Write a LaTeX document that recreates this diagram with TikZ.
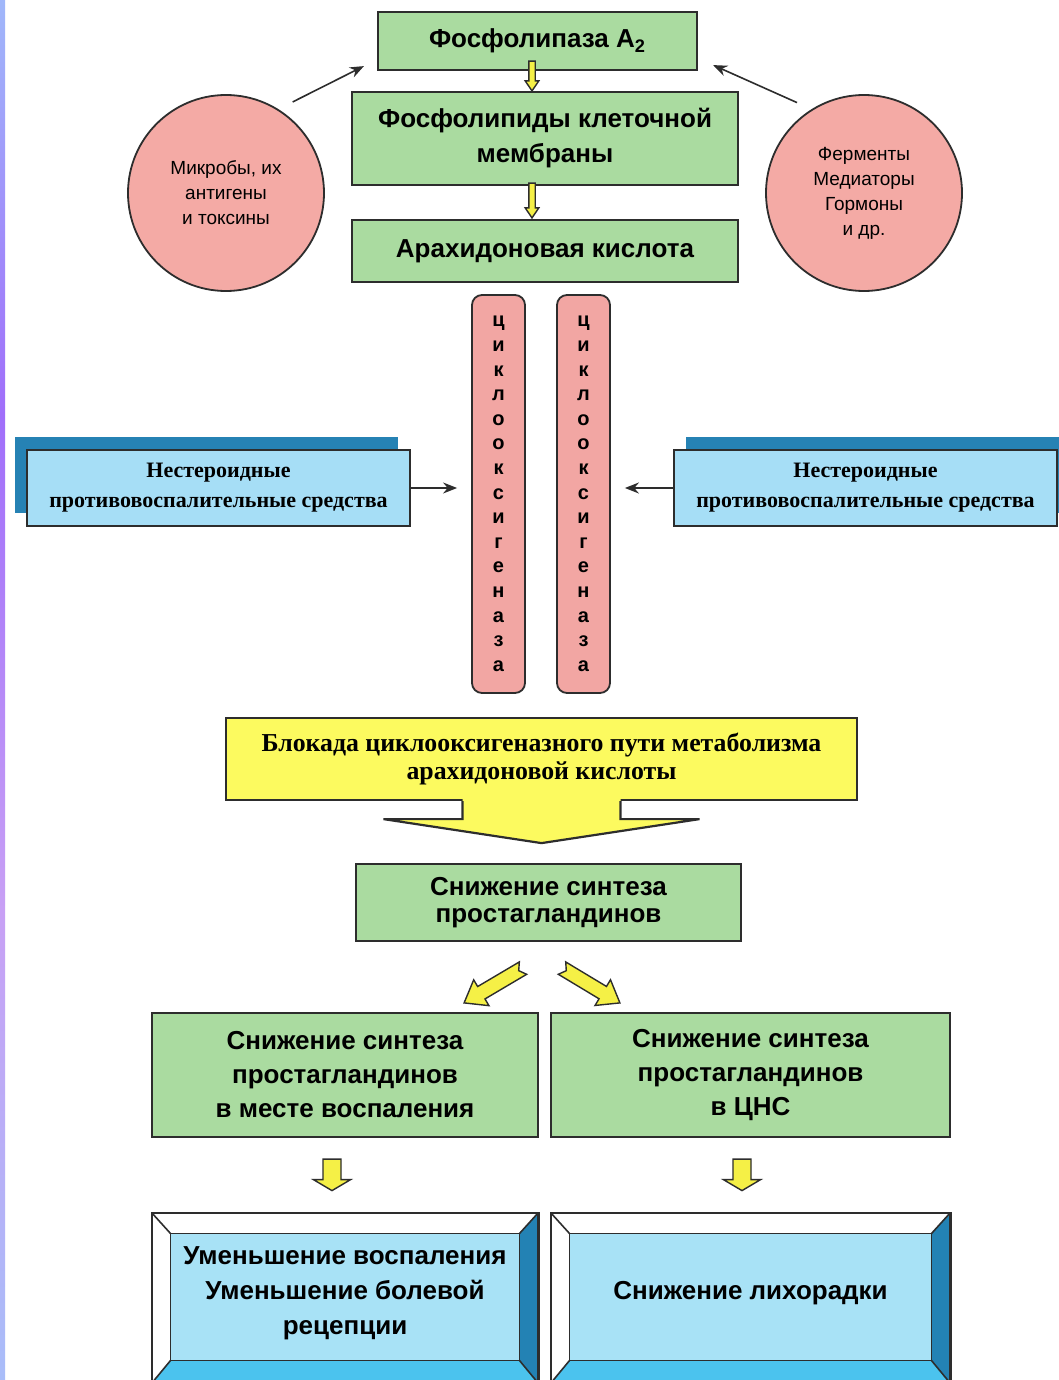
\documentclass[tikz,border=0pt]{standalone}
\usepackage{fontspec}
\setmainfont{Liberation Sans}
\newfontfamily\tnr{Liberation Serif}
\usetikzlibrary{calc,arrows.meta}
\definecolor{gfill}{RGB}{170,219,160}
\definecolor{edge}{RGB}{45,45,45}
\definecolor{pinkc}{RGB}{244,170,165}
\definecolor{coxc}{RGB}{242,166,163}
\definecolor{nsfc}{RGB}{166,222,246}
\definecolor{nsbc}{RGB}{38,130,180}
\definecolor{yel}{RGB}{252,250,95}
\definecolor{yarr}{RGB}{245,240,70}
\definecolor{bface}{RGB}{168,226,246}
\definecolor{bright}{RGB}{35,130,180}
\definecolor{bbottom}{RGB}{75,195,238}
\definecolor{sA}{RGB}{195,205,250}
\definecolor{sB}{RGB}{160,198,250}
\definecolor{sC}{RGB}{200,160,245}
\definecolor{sD}{RGB}{160,110,250}
\pgfdeclareverticalshading{leftstrip}{100bp}{color(0bp)=(sA); color(20bp)=(sB); color(42bp)=(sC); color(60bp)=(sD); color(78bp)=(sB); color(100bp)=(sA)}
\newcommand{\yblockarrow}[6]{%
  \coordinate (ybaP) at ($(#2)!#5!(#1)$);
  \filldraw[fill=yarr, draw=edge, line width=0.7pt, line join=miter]
    ($(#1)!#3!90:(#2)$) -- ($(ybaP)!#3!90:(#2)$) -- ($(ybaP)!#4!90:(#2)$) -- (#2)
    -- ($(ybaP)!#4!-90:(#2)$) -- ($(ybaP)!#3!-90:(#2)$) -- ($(#1)!#3!-90:(#2)$)
    -- ($(#1)!#6!(#2)$) -- cycle;}
\begin{document}
\begin{tikzpicture}[x=0.5pt,y=-0.5pt,
  gbox/.style={draw=edge, line width=1.1pt, fill=gfill, align=center, inner sep=0pt,
    font=\fontsize{13}{17.5}\selectfont\bfseries},
  circ/.style={circle, draw=edge, line width=0.9pt, fill=pinkc, minimum size=98pt,
    inner sep=0pt, align=center, font=\fontsize{9.5}{12.5}\selectfont},
  cox/.style={draw=edge, line width=0.9pt, fill=coxc, rounded corners=5pt,
    minimum width=26.5pt, minimum height=199pt, inner sep=0pt, align=center,
    font=\fontsize{10}{12.3}\selectfont\bfseries},
  nsfront/.style={draw=edge, line width=0.9pt, fill=nsfc, minimum width=191.5pt,
    minimum height=38pt, inner sep=0pt, align=center,
    font=\tnr\fontsize{11}{15}\selectfont\bfseries},
  nsback/.style={fill=nsbc, minimum width=191.5pt, minimum height=38pt, inner sep=0pt},
  thinarr/.style={draw=edge, line width=0.8pt, -{Stealth[length=7pt,width=5.5pt]}},
  bfont/.style={font=\fontsize{13}{17.5}\selectfont\bfseries}
]
\useasboundingbox (0,0) rectangle (1059,1380);
\clip (0,0) rectangle (1059,1380);
\fill[white] (0,0) rectangle (1059,1380);
\shade[shading=leftstrip] (0,0) rectangle (5,1380);

% top chain
\node[gbox, minimum width=159.5pt, minimum height=29pt] (ph) at (537.5,41) {Фосфолипаза A\textsubscript{2}};
\node[gbox, minimum width=193pt, minimum height=46.5pt] (fl) at (545,138.5) {Фосфолипиды клеточной\\мембраны};
\node[gbox, minimum width=193pt, minimum height=31pt] (ak) at (545,251) {Арахидоновая кислота};

\coordinate (t1a) at ($(ph.south)+(-5.5,-10)$);
\coordinate (t1b) at ($(fl.north)+(-13,0)$);
\coordinate (t2a) at ($(fl.south)+(-13,-3)$);
\coordinate (t2b) at ($(ak.north)+(-13,-1)$);
\yblockarrow{t1a}{t1b}{1.6pt}{3.4pt}{5pt}{0pt}
\yblockarrow{t2a}{t2b}{1.6pt}{3.4pt}{5pt}{0pt}

% circles
\node[circ] (lc) at (226,193) {Микробы, их\\антигены\\и токсины};
\node[circ] (rc) at (864,193) {Ферменты\\Медиаторы\\Гормоны\\и др.};
\draw[thinarr, shorten <=8pt] (lc.58) -- ($(ph.south west)+(-13,-5)$);
\draw[thinarr, shorten <=8pt] (rc.122) -- ($(ph.south east)+(15,-6)$);

% cyclooxygenase bars
\node[cox] (c1) at (498.5,494) {ц\\и\\к\\л\\о\\о\\к\\с\\и\\г\\е\\н\\а\\з\\а};
\node[cox] (c2) at (583.5,494) {ц\\и\\к\\л\\о\\о\\к\\с\\и\\г\\е\\н\\а\\з\\а};

% NSAID boxes
\node[nsback] (n1b) at (206.5,475) {};
\node[nsfront] (n1) at (218.5,488) {Нестероидные\\противовоспалительные средства};
\node[nsback] (n2b) at (877.5,475) {};
\node[nsfront] (n2) at (865.5,488) {Нестероидные\\противовоспалительные средства};
\draw[thinarr, shorten >=7pt] (n1.east) -- (n1.east -| c1.west);
\draw[thinarr, shorten >=7pt] (n2.west) -- (n2.west -| c2.east);

% yellow block
\node[draw=edge, line width=1.1pt, fill=yel, minimum width=315.5pt, minimum height=41pt,
  align=center, inner sep=0pt, font=\tnr\fontsize{12.9}{14}\selectfont\bfseries] (yb) at (541.5,759)
  {Блокада циклооксигеназного пути метаболизма\\арахидоновой кислоты};
\fill[yel] ($(yb.south)+(-79,-3)$) -- ($(yb.south)+(-79,18)$) -- ($(yb.south)+(-158,18)$)
  -- ($(yb.south)+(0,42)$) -- ($(yb.south)+(158,18)$) -- ($(yb.south)+(79,18)$)
  -- ($(yb.south)+(79,-3)$) -- cycle;
\draw[edge, line width=1.1pt, line join=miter] ($(yb.south)+(-79,0)$) -- ($(yb.south)+(-79,18)$) -- ($(yb.south)+(-158,18)$)
  -- ($(yb.south)+(0,42)$) -- ($(yb.south)+(158,18)$) -- ($(yb.south)+(79,18)$)
  -- ($(yb.south)+(79,0)$);

% prostaglandins
\node[gbox, minimum width=192.5pt, minimum height=38.5pt, font=\fontsize{13}{13.5}\selectfont\bfseries] (sp) at (548.5,902.5) {Снижение синтеза\\простагландинов};
\node[gbox, minimum width=193pt, minimum height=62pt, font=\fontsize{13}{17}\selectfont\bfseries] (lg) at (345,1075) {Снижение синтеза\\простагландинов\\в месте воспаления};
\node[gbox, minimum width=199.5pt, minimum height=62pt, font=\fontsize{13}{17}\selectfont\bfseries] (rg) at (750.5,1075) {Снижение синтеза\\простагландинов\\в ЦНС};

\coordinate (dla) at ($(sp.south)+(-25.5,26)$);
\coordinate (dlb) at ($(lg.north east)+(-75,-9)$);
\coordinate (dra) at ($(sp.south)+(13.5,26)$);
\coordinate (drb) at ($(rg.north west)+(70,-9)$);
\yblockarrow{dla}{dlb}{3.6pt}{7.5pt}{10pt}{2.5pt}
\yblockarrow{dra}{drb}{3.6pt}{7.5pt}{10pt}{2.5pt}

% bottom bevel boxes
\node[minimum width=193pt, minimum height=85pt, inner sep=0pt] (lbo) at (345,1298) {};
\node[minimum width=199.5pt, minimum height=85pt, inner sep=0pt] (rbo) at (750.5,1298) {};
\foreach \o/\i/\cx/\w in {lbo/lbi/345/174pt, rbo/rbi/750.5/180.5pt}{
  \node[fill=bface, minimum width=\w, minimum height=63pt, inner sep=0pt] (\i) at (\cx,1297) {};
  \fill[white] (\o.north west) -- (\o.north east) -- (\i.north east) -- (\i.north west) -- cycle;
  \fill[white] (\o.north west) -- (\i.north west) -- (\i.south west) -- (\o.south west) -- cycle;
  \fill[bright] (\o.north east) -- (\o.south east) -- (\i.south east) -- (\i.north east) -- cycle;
  \fill[bbottom] (\i.south west) -- (\i.south east) -- (\o.south east) -- (\o.south west) -- cycle;
  \draw[edge, line width=0.8pt] (\i.north west) rectangle (\i.south east);
  \draw[edge, line width=0.8pt] (\o.north west) -- (\i.north west) (\o.north east) -- (\i.north east)
    (\o.south west) -- (\i.south west) (\o.south east) -- (\i.south east);
  \draw[edge, line width=1.1pt] (\o.north west) rectangle (\o.south east);
}
\node[bfont, align=center] (lbt) at (345,1293) {Уменьшение воспаления\\Уменьшение болевой\\рецепции};
\node[bfont, align=center] (rbt) at (750.5,1293) {Снижение лихорадки};

\coordinate (s1a) at ($(lg.south)+(-13,21)$);
\coordinate (s1b) at ($(lbo.north)+(-13,-22)$);
\coordinate (s2a) at ($(rg.south)+(-8.5,21)$);
\coordinate (s2b) at ($(rbo.north)+(-8.5,-22)$);
\yblockarrow{s1a}{s1b}{4.5pt}{9.3pt}{5.5pt}{0pt}
\yblockarrow{s2a}{s2b}{4.5pt}{9.3pt}{5.5pt}{0pt}
\end{tikzpicture}
\end{document}
